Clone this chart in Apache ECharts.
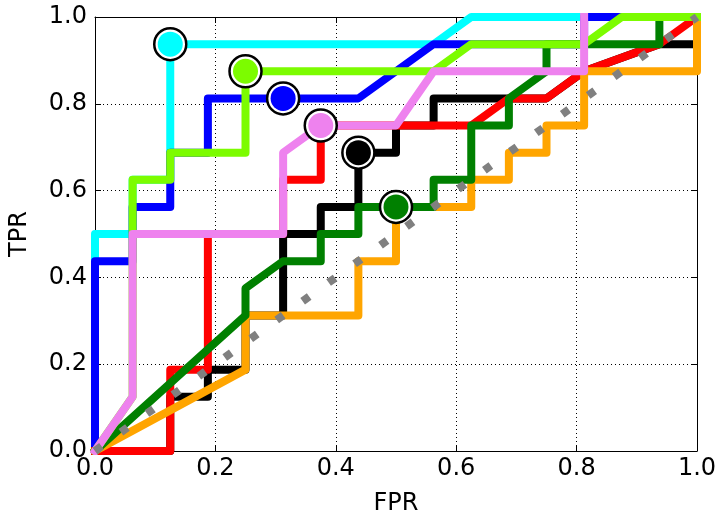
<!DOCTYPE html>
<html>
<head>
<meta charset="utf-8">
<script src="https://cdn.jsdelivr.net/npm/echarts@6/dist/echarts.min.js"></script>
<style>html,body{margin:0;padding:0;background:#fff}#chart{width:721px;height:521px}</style>
</head>
<body>
<div id="chart"></div>
<script>
// ROC curves: FPR / TPR points
const cyanFPR   = [0, 0, 0.0625, 0.0625, 0.125, 0.125, 0.5625, 0.625, 1];
const cyanTPR   = [0, 0.5, 0.5, 0.625, 0.625, 0.9375, 0.9375, 1, 1];
const blueFPR   = [0, 0, 0.0625, 0.0625, 0.125, 0.125, 0.1875, 0.1875, 0.4375, 0.5625, 0.8125, 0.8125, 1];
const blueTPR   = [0, 0.4375, 0.4375, 0.5625, 0.5625, 0.6875, 0.6875, 0.8125, 0.8125, 0.9375, 0.9375, 1, 1];
const blackFPR  = [0, 0.125, 0.125, 0.1875, 0.1875, 0.25, 0.25, 0.3125, 0.3125, 0.375, 0.375, 0.4375, 0.4375, 0.5, 0.5, 0.5625, 0.5625, 0.75, 0.8125, 0.9375, 1, 1];
const blackTPR  = [0, 0, 0.125, 0.125, 0.1875, 0.1875, 0.3125, 0.3125, 0.5, 0.5, 0.5625, 0.5625, 0.6875, 0.6875, 0.75, 0.75, 0.8125, 0.8125, 0.875, 0.9375, 0.9375, 1];
const redFPR    = [0, 0.125, 0.125, 0.1875, 0.1875, 0.3125, 0.3125, 0.375, 0.375, 0.625, 0.6875, 0.75, 0.8125, 0.9375, 1];
const redTPR    = [0, 0, 0.1875, 0.1875, 0.5, 0.5, 0.625, 0.625, 0.75, 0.75, 0.8125, 0.8125, 0.875, 0.9375, 1];
const orangeFPR = [0, 0.25, 0.25, 0.4375, 0.4375, 0.5, 0.5, 0.625, 0.625, 0.6875, 0.6875, 0.75, 0.75, 0.8125, 0.8125, 1, 1];
const orangeTPR = [0, 0.1875, 0.3125, 0.3125, 0.4375, 0.4375, 0.5625, 0.5625, 0.625, 0.625, 0.6875, 0.6875, 0.75, 0.75, 0.875, 0.875, 1];
const greenFPR  = [0, 0.25, 0.25, 0.3125, 0.375, 0.375, 0.4375, 0.4375, 0.5625, 0.5625, 0.625, 0.625, 0.6875, 0.6875, 0.75, 0.75, 0.9375, 0.9375, 1];
const greenTPR  = [0, 0.3125, 0.375, 0.4375, 0.4375, 0.5, 0.5, 0.5625, 0.5625, 0.625, 0.625, 0.75, 0.75, 0.8125, 0.875, 0.9375, 0.9375, 1, 1];
const lawnFPR   = [0, 0.0625, 0.0625, 0.125, 0.125, 0.25, 0.25, 0.5625, 0.625, 0.8125, 0.875, 1];
const lawnTPR   = [0, 0.125, 0.625, 0.625, 0.6875, 0.6875, 0.875, 0.875, 0.9375, 0.9375, 1, 1];
const violetFPR = [0, 0.0625, 0.0625, 0.3125, 0.3125, 0.375, 0.5, 0.5625, 0.8125, 0.8125];
const violetTPR = [0, 0.125, 0.5, 0.5, 0.6875, 0.75, 0.75, 0.875, 0.875, 1];
const chanceFPR = [0, 1];
const chanceTPR = [0, 1];
// highlighted operating points
const markerNames = ['cyan', 'lawngreen', 'blue', 'violet', 'black', 'green'];
const markerFPR   = [0.125, 0.25, 0.3125, 0.375, 0.4375, 0.5];
const markerTPR   = [0.9375, 0.875, 0.8125, 0.75, 0.6875, 0.5625];
const tickValues  = ['0.0', '0.2', '0.4', '0.6', '0.8', '1.0'];

const colorMap = {cyan:'#00ffff', blue:'#0000ff', black:'#000000', red:'#ff0000', orange:'#ffa500', green:'#008000', lawngreen:'#7cfc00', violet:'#ee82ee', gray:'#808080'};

function pts(xs, ys){ return xs.map((x,i)=>[x, ys[i]]); }
const curves = [
  ['cyan', cyanFPR, cyanTPR],
  ['blue', blueFPR, blueTPR],
  ['black', blackFPR, blackTPR],
  ['red', redFPR, redTPR],
  ['orange', orangeFPR, orangeTPR],
  ['green', greenFPR, greenTPR],
  ['lawngreen', lawnFPR, lawnTPR],
  ['violet', violetFPR, violetTPR]
];
const FONT = 'DejaVu Sans';
const series = [];
curves.forEach((c, i) => {
  series.push({
    type:'line', data: pts(c[1], c[2]), showSymbol:false, symbol:'none', z: 2 + i,
    lineStyle:{color: colorMap[c[0]], width: 8, join:'round', cap:'square'},
    silent:true, animation:false
  });
});
series.push({
  type:'line', data: pts(chanceFPR, chanceTPR), showSymbol:false, symbol:'none', z: 20,
  lineStyle:{color: colorMap.gray, width: 8, type:[8, 24], cap:'butt'}, silent:true
});
markerNames.forEach((n, i) => {
  series.push({
    type:'scatter', data:[[markerFPR[i], markerTPR[i]]], symbol:'circle', symbolSize:32, z:30,
    itemStyle:{color:'#ffffff', borderColor:'#000000', borderWidth:2.5, opacity:1}, silent:true
  });
  series.push({
    type:'scatter', data:[[markerFPR[i], markerTPR[i]]], symbol:'circle', symbolSize:25, z:31,
    itemStyle:{color: colorMap[n], opacity:1}, silent:true
  });
});

const labelFmt = v => tickValues[Math.round(v / 0.2)];
const common = {type:'value', min:0, max:1, interval:0.2,
  axisLine:{show:true, onZero:false, lineStyle:{color:'#000', width:1}},
  axisTick:{show:true, inside:true, length:6, lineStyle:{color:'#000', width:1}}};

const option = {
  backgroundColor:'#fff',
  animation:false,
  grid:{left:88, right:24, top:17, bottom:66, containLabel:false},
  xAxis:[
    Object.assign({}, common, {position:'bottom',
      name:'FPR', nameLocation:'middle', nameGap:41, nameTextStyle:{fontFamily:FONT, fontSize:24, color:'#000'},
      axisLabel:{formatter:labelFmt, fontFamily:FONT, fontSize:24, color:'#000', margin:6},
      splitLine:{show:true, lineStyle:{color:'#000', width:1, type:[1,3]}}}),
    Object.assign({}, common, {position:'top', axisLabel:{show:false}, splitLine:{show:false}})
  ],
  yAxis:[
    Object.assign({}, common, {position:'left',
      name:'TPR', nameLocation:'middle', nameGap:63, nameTextStyle:{fontFamily:FONT, fontSize:24, color:'#000'},
      axisLabel:{formatter:labelFmt, fontFamily:FONT, fontSize:24, color:'#000', margin:8},
      splitLine:{show:true, lineStyle:{color:'#000', width:1, type:[1,3]}}}),
    Object.assign({}, common, {position:'right', axisLabel:{show:false}, splitLine:{show:false}})
  ],
  series: series
};
const chart = echarts.init(document.getElementById('chart'), null, {renderer:'canvas'});
chart.setOption(option);
</script>
</body>
</html>
